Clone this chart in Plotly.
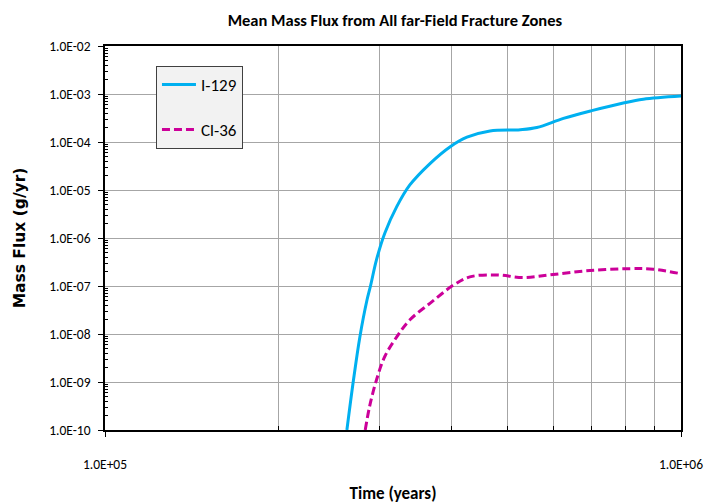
import plotly.graph_objects as go

# I-129 mean mass flux (g/yr) vs time (years)
i129_t = [2.63e5, 2.70e5, 2.77e5, 2.85e5, 2.89e5, 2.96e5, 3.06e5, 3.21e5, 3.38e5, 3.67e5,
          3.97e5, 4.25e5, 4.66e5, 5.26e5, 5.62e5, 6.25e5, 7.00e5, 7.94e5, 8.60e5, 1.0e6]
i129_flux = [1.0e-10, 1.1e-9, 8.7e-9, 5.1e-8, 1.0e-7, 3.5e-7, 1.26e-6, 4.5e-6, 1.26e-5, 3.6e-5,
             7.9e-5, 1.26e-4, 1.7e-4, 1.8e-4, 2.0e-4, 3.1e-4, 4.5e-4, 6.5e-4, 7.8e-4, 9.1e-4]

# Cl-36 mean mass flux (g/yr) vs time (years)
cl36_t = [2.83e5, 2.88e5, 2.96e5, 3.06e5, 3.21e5, 3.38e5, 3.67e5, 4.03e5, 4.30e5, 4.79e5,
          5.33e5, 6.00e5, 6.95e5, 8.16e5, 8.95e5, 1.0e6]
cl36_flux = [1.0e-10, 3.1e-10, 1.1e-9, 3.4e-9, 8.7e-9, 1.95e-8, 4.4e-8, 1.05e-7, 1.55e-7, 1.7e-7,
             1.5e-7, 1.74e-7, 2.1e-7, 2.3e-7, 2.24e-7, 1.8e-7]

y_tickvals = [1e-10, 1e-9, 1e-8, 1e-7, 1e-6, 1e-5, 1e-4, 1e-3, 1e-2]
y_ticktext = ["1.0E-10", "1.0E-09", "1.0E-08", "1.0E-07", "1.0E-06",
              "1.0E-05", "1.0E-04", "1.0E-03", "1.0E-02"]
x_tickvals = [1e5, 1e6]
x_ticktext = ["1.0E+05", "1.0E+06"]
x_minor = [2e5, 3e5, 4e5, 5e5, 6e5, 7e5, 8e5, 9e5]
y_minor = [m * 10.0 ** e for e in range(-10, -2) for m in range(2, 10)]

FONT = "Carlito, Lato, 'Liberation Sans', sans-serif"

fig = go.Figure()
fig.add_trace(go.Scatter(x=i129_t, y=i129_flux, mode="lines", name="I-129",
                         legendgroup="a",
                         line=dict(color="#00b0f0", width=3, shape="spline", smoothing=1.0)))
fig.add_trace(go.Scatter(x=cl36_t, y=cl36_flux, mode="lines", name="Cl-36",
                         legendgroup="b",
                         line=dict(color="#cc0099", width=3, dash="8px,4px", shape="spline", smoothing=1.0)))

fig.update_layout(
    width=707, height=504,
    margin=dict(l=105, r=26, t=46, b=74),
    paper_bgcolor="white", plot_bgcolor="white",
    font=dict(family=FONT, color="#000000", size=13),
    title=dict(text="<b>Mean Mass Flux from All far-Field Fracture Zones</b>",
               x=0.5585, xanchor="center", y=0.96, yanchor="middle",
               font=dict(family=FONT, size=16.5, color="#000000")),
    showlegend=True,
    legend=dict(x=0.0885, y=0.948, xanchor="left", yanchor="top",
                bgcolor="#f2f2f2", bordercolor="#404040", borderwidth=1,
                traceorder="grouped", tracegroupgap=20,
                font=dict(family=FONT, size=17, color="#000000"),
                itemwidth=34),
)

fig.update_xaxes(
    type="log", range=[5, 6], automargin=False,
    tickvals=x_tickvals, ticktext=x_ticktext,
    ticks="outside", ticklen=5, tickcolor="#000000",
    ticklabelstandoff=16,
    tickfont=dict(family=FONT, size=13.5),
    showline=True, linecolor="#000000", linewidth=2, mirror=True,
    showgrid=False, zeroline=False,
    minor=dict(tickvals=x_minor, showgrid=True, gridcolor="#a6a6a6", gridwidth=1,
               ticks="inside", ticklen=4, tickcolor="#000000"),
    title=dict(text="<b>Time (years)</b>", font=dict(family=FONT, size=17), standoff=18),
)
fig.update_yaxes(
    type="log", range=[-10, -2], automargin=False,
    tickvals=y_tickvals, ticktext=y_ticktext,
    ticks="outside", ticklen=5, tickcolor="#000000",
    ticklabelstandoff=5,
    tickfont=dict(family=FONT, size=13.5),
    showline=True, linecolor="#000000", linewidth=1.5, mirror=True,
    showgrid=True, gridcolor="#a6a6a6", gridwidth=1, zeroline=False,
    minor=dict(tickvals=y_minor, showgrid=False, ticks="inside", ticklen=3, tickcolor="#000000"),
    title=dict(text="<b>Mass Flux (g/yr)</b>",
               font=dict(family="Verdana, 'DejaVu Sans', sans-serif", size=15.5), standoff=20),
)

fig.write_html("out.html")
